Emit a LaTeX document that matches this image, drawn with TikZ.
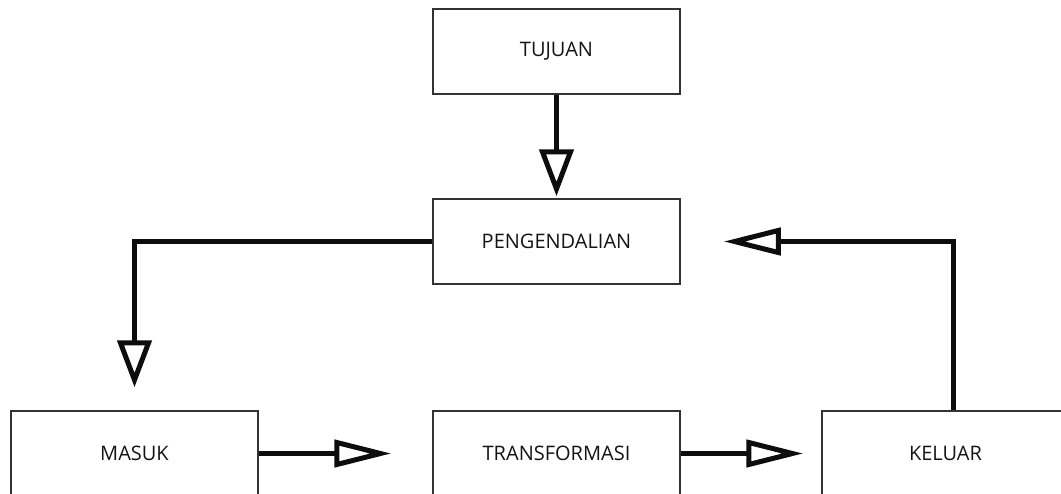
\documentclass[tikz,border=0pt]{standalone}
\usepackage{fontspec}
\setmainfont{Open Sans}
\usetikzlibrary{arrows.meta}
\begin{document}
\begin{tikzpicture}[x=1pt,y=-1pt,
  box node/.style={rectangle,draw=black!80,line width=1.5pt,minimum width=247pt,minimum height=85pt,text=black!92,font=\fontsize{20pt}{24pt}\selectfont,inner sep=0pt},
  vtip/.style={-{Triangle[open,length=47pt,width=34pt,line width=5pt]}},
  htip/.style={-{Triangle[open,length=57pt,width=27pt,line width=5pt]}},
  link/.style={line width=4.5pt,draw=black!95}]

  \useasboundingbox (0,0) rectangle (1061,493);
  \clip (0,0) rectangle (1061,493);

  \node[box node] (tujuan) at (556.5,51.5){TUJUAN};
  \node[box node] (peng) at (556.5,241.5){PENGENDALIAN};
  \node[box node] (masuk) at (134.5,453.5){MASUK};
  \node[box node] (trans) at (556.5,453.5){TRANSFORMASI};
  \node[box node] (keluar) at (945.5,453.5){KELUAR};

  \path[link]
    (tujuan) edge[vtip,shorten >=2pt] (peng)
    (masuk) edge[htip,shorten >=41pt] (trans)
    (trans) edge[htip,shorten >=18pt] (keluar);
  \draw[link,vtip,shorten >=23pt] (peng.west) -| (masuk.north);
  \draw[link,htip,shorten >=43pt] ([xshift=8pt]keluar.north) |- (peng.east);
\end{tikzpicture}
\end{document}
